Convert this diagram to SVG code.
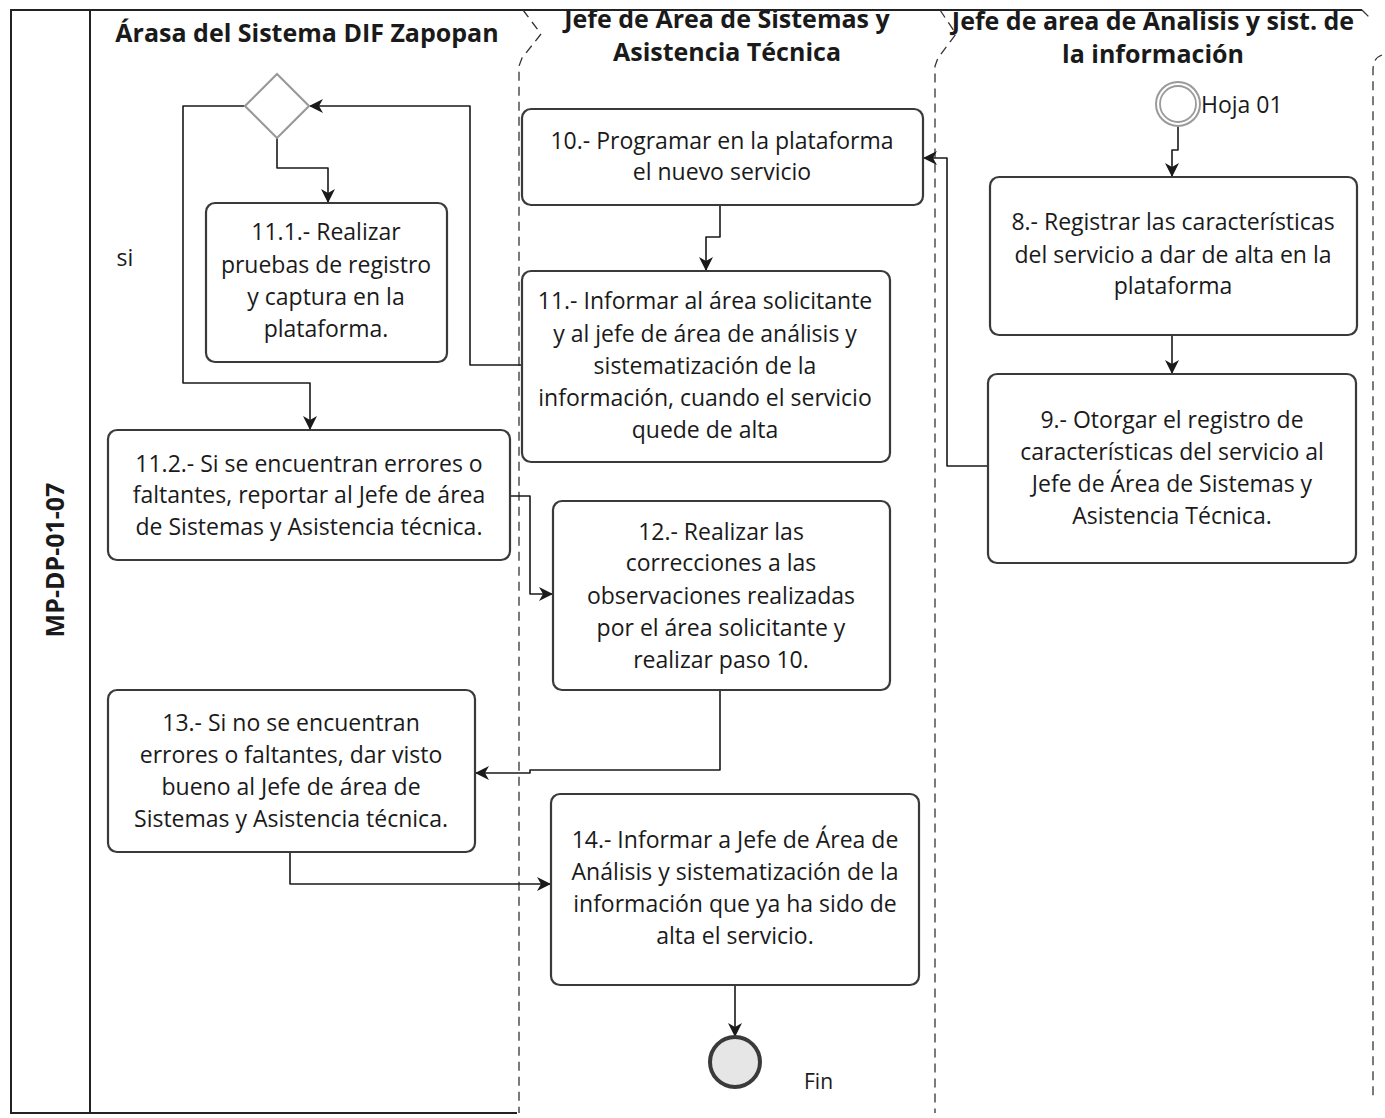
<svg xmlns="http://www.w3.org/2000/svg" width="1385" height="1118" viewBox="0 0 1385 1118">
<style>
.box{fill:#fff;stroke:#3a3a3a;stroke-width:2.2}
.t{font-family:"Open Sans","DejaVu Sans",sans-serif;font-size:23px;fill:#1a1a1a;text-anchor:middle}
.h{font-family:"Open Sans","DejaVu Sans",sans-serif;font-size:25px;font-weight:bold;fill:#1a1a1a;text-anchor:middle}
.c{fill:none;stroke:#1a1a1a;stroke-width:1.6;stroke-linejoin:round}
.lane{fill:none;stroke:#333;stroke-width:1.3;stroke-dasharray:9,6}
.solid{fill:none;stroke:#222;stroke-width:2}
</style>
<defs>
<marker id="arr" viewBox="0 0 14 14" refX="13" refY="7" markerWidth="14" markerHeight="14" markerUnits="userSpaceOnUse" orient="auto">
<path d="M0,0 L14,7 L0,14 L4,7 Z" fill="#1a1a1a"/>
</marker>
</defs>
<rect width="1385" height="1118" fill="#fff"/>
<g id="pool">
<text x="64" y="560" class="h" font-size="24" transform="rotate(-90 64 560)">MP-DP-01-07</text>
<text x="307" y="42" class="h" font-size="26">Árasa del Sistema DIF Zapopan</text>
<text x="727" y="28" class="h">Jefe de Área de Sistemas y</text>
<text x="727" y="61" class="h">Asistencia Técnica</text>
<text x="1153" y="30" class="h">Jefe de area de Analisis y sist. de</text>
<text x="1153" y="63" class="h">la información</text>
<rect x="0" y="0" width="1385" height="10" fill="#fff"/>
<path class="solid" d="M523,10 L11,10 L11,1113 L517,1113"/>
<line class="solid" x1="523" y1="10" x2="1362" y2="10"/>
<line class="solid" x1="90" y1="10" x2="90" y2="1113"/>
<path class="lane" d="M523,10 L541,34 L522,58 L519,66 L519,1113"/>
<path class="lane" d="M940,10 L956,34 L938,58 L935,66 L935,1113"/>
<path class="lane" d="M1362,10 L1372,20"/>
<path class="lane" d="M1382,55 Q1373,58 1373,70 L1373,1100"/>
</g>
<g id="connectors">
<path class="c" d="M245,106 L183,106 L183,383 L310,383 L310,429" marker-end="url(#arr)"/>
<path class="c" d="M277,138 L277,168 L328,168 L328,202" marker-end="url(#arr)"/>
<path class="c" d="M522,365 L470,365 L470,106 L310,106" marker-end="url(#arr)"/>
<path class="c" d="M1178,127 L1178,150 L1172,150 L1172,176" marker-end="url(#arr)"/>
<path class="c" d="M1172,335 L1172,373" marker-end="url(#arr)"/>
<path class="c" d="M988,466 L947,466 L947,158 L924,158" marker-end="url(#arr)"/>
<path class="c" d="M720,205 L720,237 L706,237 L706,270" marker-end="url(#arr)"/>
<path class="c" d="M510,496 L530,496 L530,594 L552,594" marker-end="url(#arr)"/>
<path class="c" d="M720,690 L720,770 L530,770 L530,773 L476,773" marker-end="url(#arr)"/>
<path class="c" d="M290,852 L290,884 L550,884" marker-end="url(#arr)"/>
<path class="c" d="M735,985 L735,1036" marker-end="url(#arr)"/>
</g>
<g id="gateway">
<path d="M277,74 L309,106 L277,138 L245,106 Z" fill="#fff" stroke="#9a9a9a" stroke-width="2.2"/>
<text x="125" y="266" class="t" font-size="21">si</text>
</g>
<g id="start">
<circle cx="1178" cy="104" r="22" fill="#fff" stroke="#9a9a9a" stroke-width="2"/>
<circle cx="1178" cy="104" r="18" fill="none" stroke="#9a9a9a" stroke-width="1.8"/>
<text x="1201" y="113" font-family="'Open Sans',sans-serif" font-size="23" fill="#1a1a1a">Hoja 01</text>
</g>
<g id="end">
<circle cx="735" cy="1062" r="25" fill="#e6e6e6" stroke="#3a3a3a" stroke-width="4"/>
<text x="804" y="1089" font-family="'Open Sans',sans-serif" font-size="21" fill="#1a1a1a">Fin</text>
</g>
<g id="n10">
<rect class="box" x="522" y="109" width="401" height="96" rx="9"/>
<text class="t" x="722" y="149">10.- Programar en la plataforma</text>
<text class="t" x="722" y="180">el nuevo servicio</text>
</g>
<g id="n11">
<rect class="box" x="522" y="271" width="368" height="191" rx="9"/>
<text class="t" x="705" y="309">11.- Informar al área solicitante</text>
<text class="t" x="705" y="342">y al jefe de área de análisis y</text>
<text class="t" x="705" y="374">sistematización de la</text>
<text class="t" x="705" y="406">información, cuando el servicio</text>
<text class="t" x="705" y="438">quede de alta</text>
</g>
<g id="n11_1">
<rect class="box" x="206" y="203" width="241" height="159" rx="9"/>
<text class="t" x="326" y="240">11.1.- Realizar</text>
<text class="t" x="326" y="273">pruebas de registro</text>
<text class="t" x="326" y="305">y captura en la</text>
<text class="t" x="326" y="337">plataforma.</text>
</g>
<g id="n11_2">
<rect class="box" x="108" y="430" width="402" height="130" rx="9"/>
<text class="t" x="309" y="472">11.2.- Si se encuentran errores o</text>
<text class="t" x="309" y="503">faltantes, reportar al Jefe de área</text>
<text class="t" x="309" y="535">de Sistemas y Asistencia técnica.</text>
</g>
<g id="n12">
<rect class="box" x="553" y="501" width="337" height="189" rx="9"/>
<text class="t" x="721" y="540">12.- Realizar las</text>
<text class="t" x="721" y="571">correcciones a las</text>
<text class="t" x="721" y="604">observaciones realizadas</text>
<text class="t" x="721" y="636">por el área solicitante y</text>
<text class="t" x="721" y="668">realizar paso 10.</text>
</g>
<g id="n13">
<rect class="box" x="108" y="690" width="367" height="162" rx="9"/>
<text class="t" x="291" y="731">13.- Si no se encuentran</text>
<text class="t" x="291" y="763">errores o faltantes, dar visto</text>
<text class="t" x="291" y="795">bueno al Jefe de área de</text>
<text class="t" x="291" y="827">Sistemas y Asistencia técnica.</text>
</g>
<g id="n14">
<rect class="box" x="551" y="794" width="368" height="191" rx="9"/>
<text class="t" x="735" y="848">14.- Informar a Jefe de Área de</text>
<text class="t" x="735" y="880">Análisis y sistematización de la</text>
<text class="t" x="735" y="912">información que ya ha sido de</text>
<text class="t" x="735" y="944">alta el servicio.</text>
</g>
<g id="n8">
<rect class="box" x="990" y="177" width="367" height="158" rx="9"/>
<text class="t" x="1173" y="230">8.- Registrar las características</text>
<text class="t" x="1173" y="263">del servicio a dar de alta en la</text>
<text class="t" x="1173" y="294">plataforma</text>
</g>
<g id="n9">
<rect class="box" x="988" y="374" width="368" height="189" rx="9"/>
<text class="t" x="1172" y="428">9.- Otorgar el registro de</text>
<text class="t" x="1172" y="460">características del servicio al</text>
<text class="t" x="1172" y="492">Jefe de Área de Sistemas y</text>
<text class="t" x="1172" y="524">Asistencia Técnica.</text>
</g>
</svg>
